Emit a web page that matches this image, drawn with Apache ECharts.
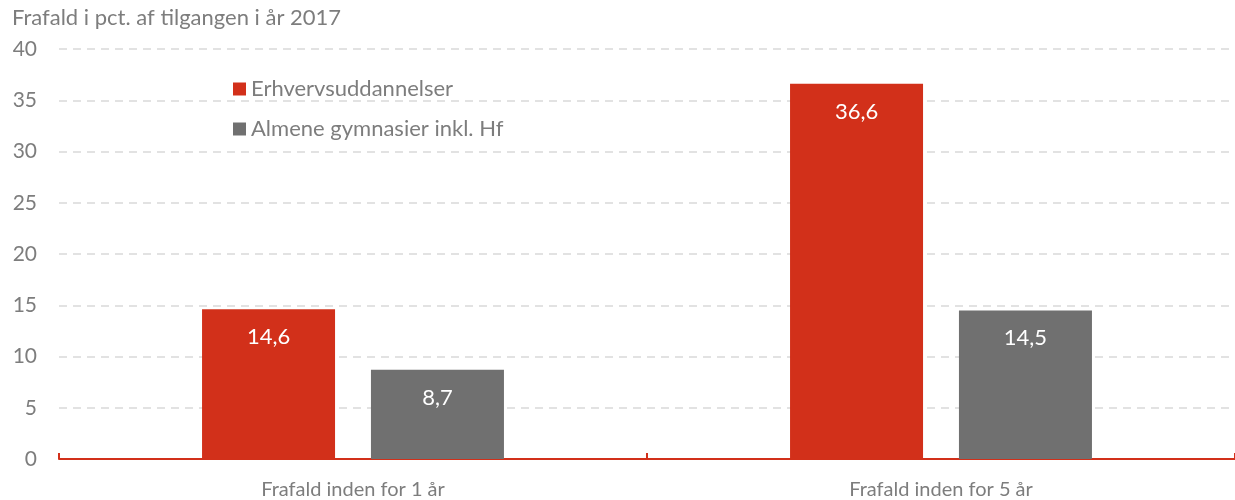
<!DOCTYPE html>
<html><head><meta charset="utf-8">
<script src="https://cdn.jsdelivr.net/npm/echarts@6/dist/echarts.min.js"></script>
<style>html,body{margin:0;padding:0;background:#fff}#c{width:1235px;height:500px}</style>
</head><body><div id="c"></div>
<script>
const categories = ['Frafald inden for 1 år', 'Frafald inden for 5 år'];
const seriesNames = ['Erhvervsuddannelser', 'Almene gymnasier inkl. Hf'];
const erhverv = [14.6, 36.6];
const gymnasier = [8.7, 14.5];
const yTicks = [0, 5, 10, 15, 20, 25, 30, 35, 40];
const title = 'Frafald i pct. af tilgangen i år 2017';

const FONT = 'Lato';
const TXT = '#7d7d7d';
const RED = '#d2301a';
const GREY = '#707070';
const chart = echarts.init(document.getElementById('c'));
const lbl = {show: true, position: 'insideTop', distance: 17, color: '#fff', fontSize: 22, fontFamily: FONT,
  formatter: p => String(p.value).replace('.', ',')};
chart.setOption({
  animation: false,
  title: {text: title, left: 7, top: 2, textStyle: {color: TXT, fontSize: 22, fontWeight: 'normal', fontFamily: FONT}},
  legend: {orient: 'vertical', left: 228, top: 73, itemWidth: 13, itemHeight: 13, itemGap: 18,
    icon: 'rect', textStyle: {color: TXT, fontSize: 22, fontFamily: FONT}, data: seriesNames},
  grid: {left: 59, width: 1186, top: 49, height: 412},
  xAxis: {type: 'category', data: categories,
    axisLine: {lineStyle: {color: RED, width: 2}},
    axisTick: {show: true, inside: true, length: 6, lineStyle: {color: RED, width: 2}},
    axisLabel: {color: TXT, fontSize: 20, fontFamily: FONT, margin: 21}},
  yAxis: {type: 'value', min: yTicks[0], max: yTicks[yTicks.length - 1], interval: 5,
    axisLine: {show: false}, axisTick: {show: false},
    axisLabel: {color: TXT, fontSize: 21, fontFamily: FONT, margin: 22},
    splitLine: {lineStyle: {color: '#d9d9d9', type: [8, 6], width: 1.5}}},
  series: [
    {name: seriesNames[0], type: 'bar', data: erhverv, barWidth: 133, barGap: '27%', itemStyle: {color: RED}, label: lbl},
    {name: seriesNames[1], type: 'bar', data: gymnasier, barWidth: 133, itemStyle: {color: GREY}, label: lbl}
  ]
});
</script></body></html>
